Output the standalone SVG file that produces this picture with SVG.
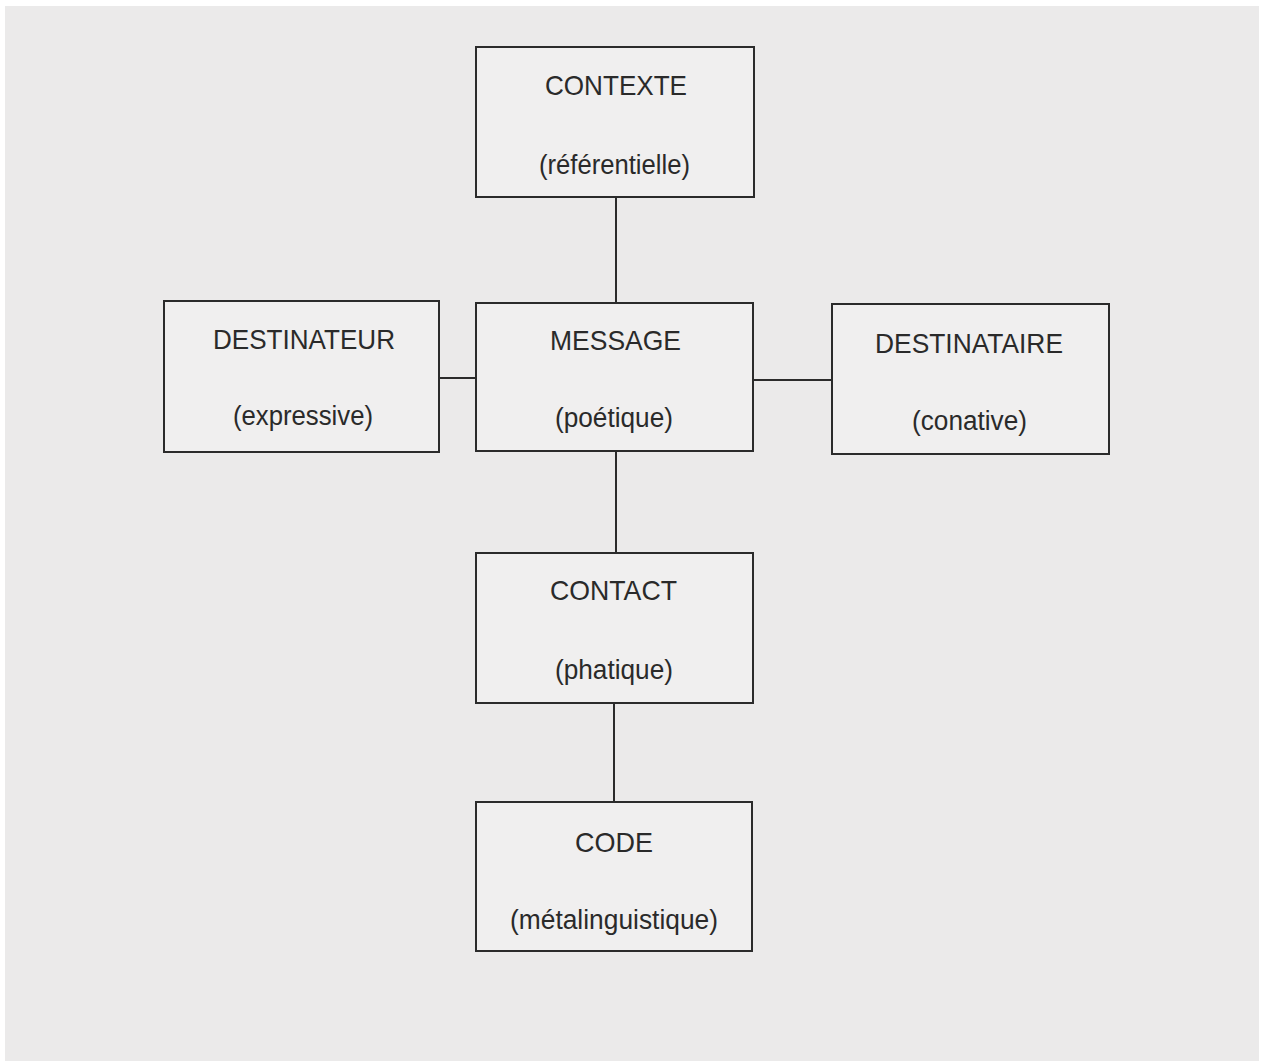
<svg xmlns="http://www.w3.org/2000/svg" width="1267" height="1061" viewBox="0 0 1267 1061">
<style>
.box{fill:#f0efef;stroke:#2b2b2b;stroke-width:2}
.con line{stroke:#2b2b2b;stroke-width:2}
text{font-family:"Liberation Sans","Arial",sans-serif;fill:#2a2a2a;text-anchor:start}
.t{font-size:28px}
.s{font-size:27px}
</style>
<rect x="0" y="0" width="1267" height="1061" fill="#ffffff"/>
<rect x="5" y="6" width="1254" height="1055" fill="#ebeaea"/>
<g class="con" id="connectors">
<line x1="616" y1="197" x2="616" y2="303"/>
<line x1="439" y1="378" x2="476" y2="378"/>
<line x1="753" y1="380" x2="832" y2="380"/>
<line x1="616" y1="451" x2="616" y2="553"/>
<line x1="614" y1="703" x2="614" y2="802"/>
</g>
<g id="contexte">
<rect class="box" x="476" y="47" width="278" height="150"/>
<text class="t" x="545" y="95" textLength="142" lengthAdjust="spacingAndGlyphs">CONTEXTE</text>
<text class="s" x="539" y="174" textLength="151" lengthAdjust="spacingAndGlyphs">(référentielle)</text>
</g>
<g id="message">
<rect class="box" x="476" y="303" width="277" height="148"/>
<text class="t" x="550" y="350" textLength="131" lengthAdjust="spacingAndGlyphs">MESSAGE</text>
<text class="s" x="555" y="427" textLength="118" lengthAdjust="spacingAndGlyphs">(poétique)</text>
</g>
<g id="destinateur">
<rect class="box" x="164" y="301" width="275" height="151"/>
<text class="t" x="213" y="349" textLength="182" lengthAdjust="spacingAndGlyphs">DESTINATEUR</text>
<text class="s" x="233" y="425" textLength="140" lengthAdjust="spacingAndGlyphs">(expressive)</text>
</g>
<g id="destinataire">
<rect class="box" x="832" y="304" width="277" height="150"/>
<text class="t" x="875" y="353" textLength="188" lengthAdjust="spacingAndGlyphs">DESTINATAIRE</text>
<text class="s" x="912" y="430" textLength="115" lengthAdjust="spacingAndGlyphs">(conative)</text>
</g>
<g id="contact">
<rect class="box" x="476" y="553" width="277" height="150"/>
<text class="t" x="550" y="600" textLength="127" lengthAdjust="spacingAndGlyphs">CONTACT</text>
<text class="s" x="555" y="679" textLength="118" lengthAdjust="spacingAndGlyphs">(phatique)</text>
</g>
<g id="code">
<rect class="box" x="476" y="802" width="276" height="149"/>
<text class="t" x="575" y="852" textLength="78" lengthAdjust="spacingAndGlyphs">CODE</text>
<text class="s" x="510" y="929" textLength="208" lengthAdjust="spacingAndGlyphs">(métalinguistique)</text>
</g>
</svg>
